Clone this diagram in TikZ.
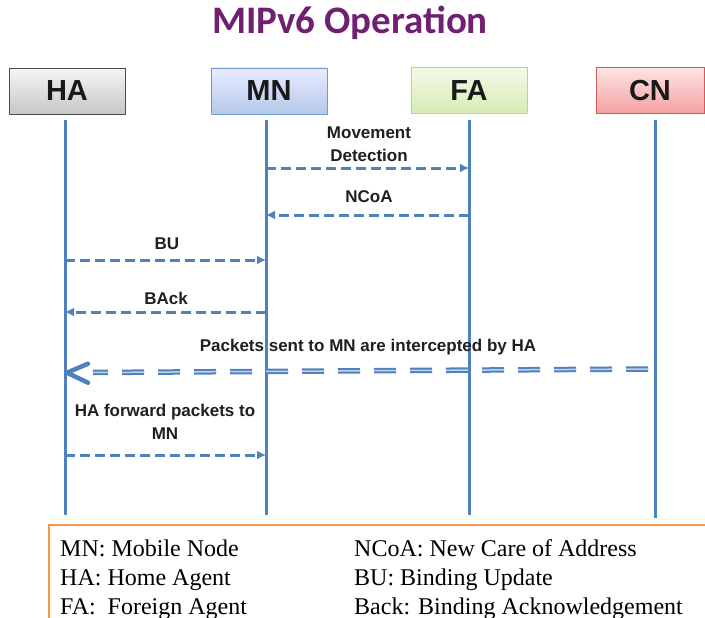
\documentclass[tikz,border=0pt]{standalone}
\usepackage{fontspec}
\setmainfont{Liberation Serif}
\newfontfamily\labelfont{Liberation Sans}
\newfontfamily\titlefont{Carlito}
\usetikzlibrary{arrows.meta}
\definecolor{seqblue}{RGB}{79,129,189}
\definecolor{titlepurple}{RGB}{112,32,112}
\definecolor{legendorange}{RGB}{247,150,70}
\tikzset{
  actor/.style={draw, line width=0.8pt, minimum width=116pt, minimum height=46pt,
    inner sep=0pt, font=\labelfont\bfseries\fontsize{29}{30}\selectfont, text=black!90},
  lifeline/.style={seqblue, line width=3pt},
  msg/.style={seqblue, line width=3pt, dash pattern=on 10pt off 5pt,
    -{Latex[length=9pt,width=9pt]}},
  bigmsg/.style={draw=seqblue, line width=2pt, double=seqblue!35, double distance=1.5pt,
    dash pattern=on 22pt off 14pt},
  chevron/.style={seqblue, line width=4.5pt, line cap=round, line join=round},
  lab/.style={font=\labelfont\bfseries\fontsize{17}{23}\selectfont, text=black!88, align=center},
  legend/.style={anchor=base west, inner sep=0pt, font=\fontsize{24}{28}\selectfont}
}
\begin{document}
\begin{tikzpicture}[x=1pt,y=-1pt]
\useasboundingbox (0,0) rectangle (705,618);

% title
\node[anchor=base, inner sep=0pt, font=\titlefont\bfseries\fontsize{39}{40}\selectfont, text=titlepurple] (title) at (350,34) {MIPv6 Operation};

% actors
\node[actor, draw=black!70, top color=black!4, bottom color=black!22] (ha) at (67,91) {HA};
\node[actor, draw=seqblue!80, top color=blue!8!white, bottom color={rgb,255:red,180;green,200;blue,235}] (mn) at (269,91) {MN};
\node[actor, draw={rgb,255:red,181;green,216;blue,138}, top color={rgb,255:red,244;green,250;blue,230}, bottom color={rgb,255:red,214;green,236;blue,180}] (fa) at (469,90.5) {FA};
\node[actor, minimum width=108pt, draw={rgb,255:red,208;green,90;blue,90}, top color={rgb,255:red,255;green,228;blue,228}, bottom color={rgb,255:red,245;green,160;blue,160}] (cn) at (650,90.5) {CN};

% lifelines
\coordinate (ha-top) at (65,120);  \coordinate (ha-bot) at (65,515);
\coordinate (mn-top) at (266,120); \coordinate (mn-bot) at (266,515);
\coordinate (fa-top) at (469,120); \coordinate (fa-bot) at (469,515);
\coordinate (cn-top) at (655,120); \coordinate (cn-bot) at (655,518);
\draw[lifeline] (ha-top) -- (ha-bot);
\draw[lifeline] (mn-top) -- (mn-bot);
\draw[lifeline] (fa-top) -- (fa-bot);
\draw[lifeline] (cn-top) -- (cn-bot);

% message end points on the lifelines
\coordinate (mn-md) at (266,168);   \coordinate (fa-md) at (469,168);
\coordinate (fa-nc) at (469,215);   \coordinate (mn-nc) at (266,215);
\coordinate (ha-bu) at (65,260);    \coordinate (mn-bu) at (266,260);
\coordinate (mn-ba) at (266,312);   \coordinate (ha-ba) at (65,312);
\coordinate (cn-pk) at (648,369);   \coordinate (ha-pk) at (93,372.5);
\coordinate (ha-tip) at (67,372.7);
\coordinate (ha-fw) at (65,455);    \coordinate (mn-fw) at (266,455);

% messages
\draw[msg] (mn-md) -- (fa-md);
\node[lab] (l-md) at (369,144) {Movement\\Detection};
\draw[msg] (fa-nc) -- (mn-nc);
\node[lab] (l-nc) at (369,197) {NCoA};
\draw[msg] (ha-bu) -- (mn-bu);
\node[lab] (l-bu) at (167,244) {BU};
\draw[msg] (mn-ba) -- (ha-ba);
\node[lab] (l-ba) at (166,298) {BAck};
\draw[bigmsg] (cn-pk) -- (ha-pk);
\draw[chevron] ([shift={(21,-9)}]ha-tip) -- (ha-tip) -- ([shift={(21,10)}]ha-tip);
\node[lab] (l-pk) at (368,347) {Packets sent to MN are intercepted by HA};
\draw[msg] (ha-fw) -- (mn-fw);
\node[lab] (l-fw) at (165,422) {HA forward packets to\\MN};

% legend
\draw[legendorange, line width=2pt] (49,625) -- (49,525) -- (710,525);
\node[legend] (k1) at (60,556) {MN: Mobile Node};
\node[legend] (k2) at (60,585) {HA: Home Agent};
\node[legend] (k3) at (60,614) {FA:~ Foreign Agent};
\node[legend] (k4) at (354,556) {NCoA: New Care of Address};
\node[legend] (k5) at (354,585) {BU: Binding Update};
\node[legend] (k6) at (354,614) {Back: Binding Acknowledgement};
\end{tikzpicture}
\end{document}
